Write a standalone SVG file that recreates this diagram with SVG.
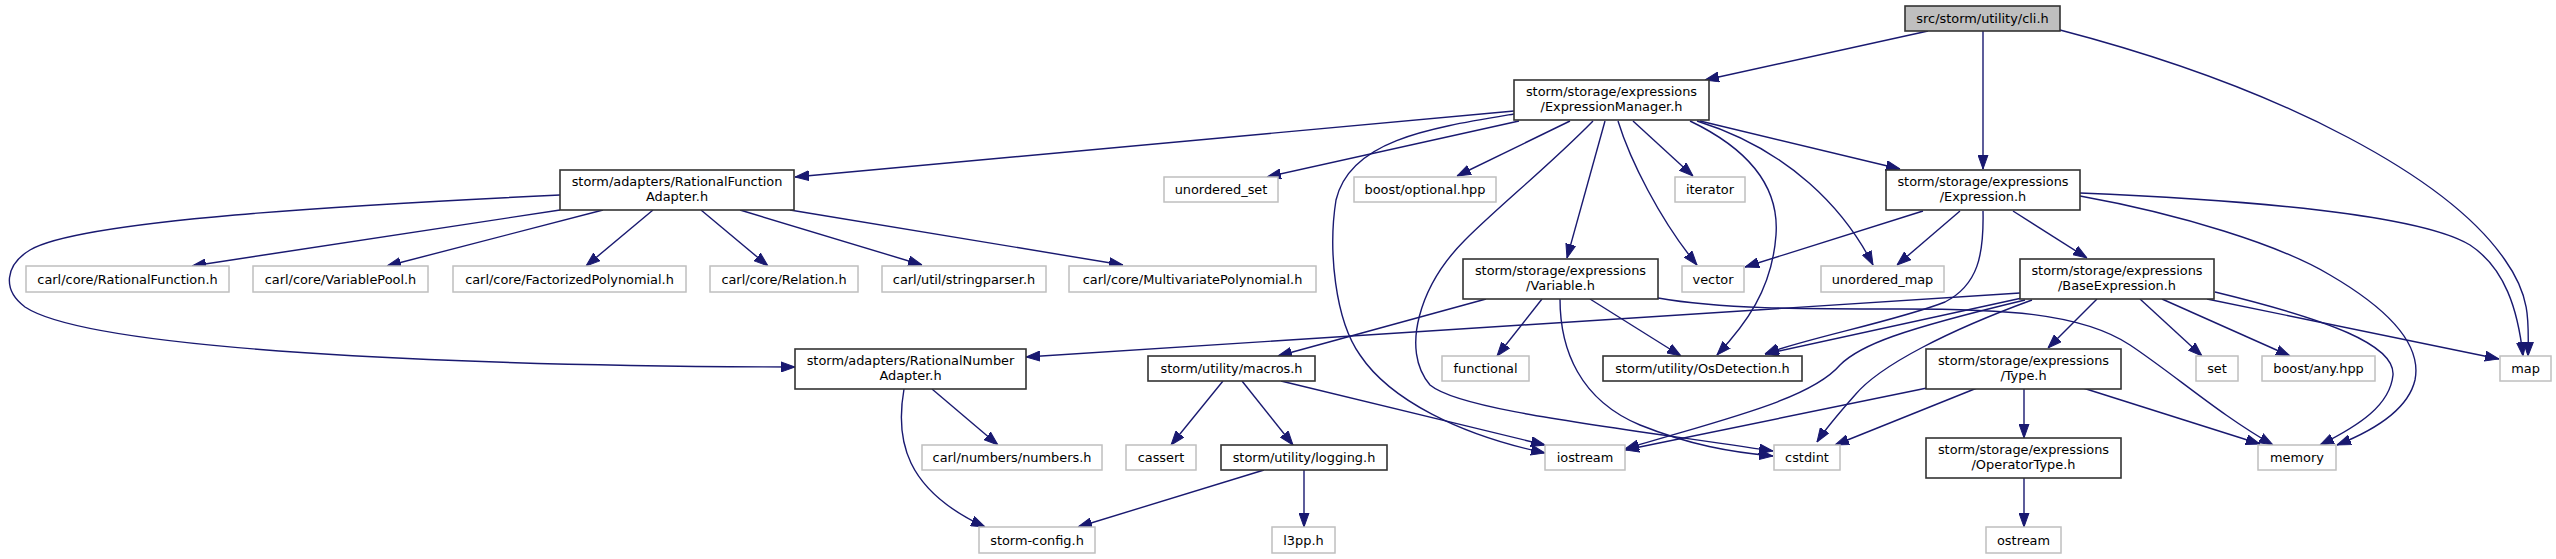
<svg xmlns="http://www.w3.org/2000/svg" width="2556" height="559" viewBox="0 0 2556 559">
<style>
text{font-family:"DejaVu Sans","Liberation Sans",sans-serif;font-size:12.9px;fill:#000;text-anchor:middle}
.n rect{fill:#fff;stroke:#333;stroke-width:1.6}
.g rect{fill:#fff;stroke:#bfbfbf;stroke-width:1.5}
.root rect{fill:#bfbfbf;stroke:#333;stroke-width:1.6}
#edges path{fill:none;stroke:#191970;stroke-width:1.4;marker-end:url(#a)}
</style>
<defs>
<marker id="a" markerWidth="14" markerHeight="11" refX="14" refY="5.5" orient="auto" markerUnits="userSpaceOnUse">
<path d="M0,0.5 L14,5.5 L0,10.5 z" fill="#191970" stroke="#191970" stroke-width="1"/>
</marker>
</defs>
<rect width="2556" height="559" fill="#fff"/>
<g id="edges">
<path d="M1928,31 L1705,80"/>
<path d="M1983,31 L1983,169"/>
<path d="M2060,30 C2290,90 2450,180 2505,260 C2530,295 2529,320 2528,356"/>
<path d="M1514,111 L795,177"/>
<path d="M1519,121 L1267,177"/>
<path d="M1570,121 L1457,176"/>
<path d="M1633,121 L1693,176"/>
<path d="M1700,121 L1900,169"/>
<path d="M1605,121 L1567,258"/>
<path d="M1618,121 C1630,160 1660,220 1697,265"/>
<path d="M1697,121 C1790,150 1845,210 1873,265"/>
<path d="M1690,121 C1740,145 1780,180 1776,235 C1772,290 1745,325 1717,355"/>
<path d="M1514,114 C1430,128 1350,140 1336,200 C1328,250 1335,320 1360,355 C1390,400 1460,435 1545,453"/>
<path d="M1593,121 C1550,165 1500,205 1465,240 C1420,285 1400,350 1430,385 C1460,410 1600,425 1773,451"/>
<path d="M560,210 L192,266"/>
<path d="M603,210 L387,266"/>
<path d="M653,210 L586,266"/>
<path d="M701,210 L768,266"/>
<path d="M740,210 L922,265"/>
<path d="M790,210 L1123,265"/>
<path d="M560,195 C350,205 80,220 30,250 C5,265 2,290 25,307 C90,350 450,366 795,367"/>
<path d="M1923,211 L1745,267"/>
<path d="M1960,211 L1897,265"/>
<path d="M2013,211 L2087,258"/>
<path d="M1983,211 C1984,255 1978,285 1945,302 C1900,320 1800,340 1765,354"/>
<path d="M2080,196 C2180,214 2280,245 2330,275 C2390,310 2422,345 2415,380 C2408,410 2375,430 2337,445"/>
<path d="M2080,193 C2250,200 2420,215 2470,245 C2505,268 2518,310 2523,356"/>
<path d="M1486,299 L1278,356"/>
<path d="M1542,299 L1497,356"/>
<path d="M1590,299 L1681,356"/>
<path d="M1560,299 C1560,350 1580,400 1640,425 C1690,445 1730,452 1773,456"/>
<path d="M1658,298 C1720,309 1800,309 1900,309 C2000,309 2080,312 2130,345 C2175,375 2220,415 2273,445"/>
<path d="M2020,293 L1026,357"/>
<path d="M2022,298 L1765,354"/>
<path d="M2025,300 C1900,330 1860,345 1840,365 C1810,400 1720,420 1625,449"/>
<path d="M2032,300 C1950,330 1880,365 1855,395 C1840,412 1826,428 1817,442"/>
<path d="M2097,299 L2048,348"/>
<path d="M2140,299 L2202,356"/>
<path d="M2162,299 L2290,356"/>
<path d="M2207,299 L2499,359"/>
<path d="M2215,292 C2330,320 2395,345 2393,375 C2390,405 2360,425 2320,445"/>
<path d="M1927,388 L1625,450"/>
<path d="M1977,388 L1835,445"/>
<path d="M2024,389 L2024,438"/>
<path d="M2083,388 L2260,444"/>
<path d="M2024,478 L2024,527"/>
<path d="M932,389 L998,445"/>
<path d="M904,389 C895,440 905,490 985,527"/>
<path d="M1223,381 L1171,445"/>
<path d="M1242,381 L1293,445"/>
<path d="M1281,381 L1545,445"/>
<path d="M1264,470 L1078,527"/>
<path d="M1304,470 L1304,527"/>
</g>
<g id="n_cli" class="root"><rect x="1905" y="6" width="155" height="25"/><text x="1982.5" y="23">src/storm/utility/cli.h</text></g>
<g id="n_exprmgr" class="n"><rect x="1514" y="80" width="195" height="40"/><text x="1611.5" y="96.3">storm/storage/expressions</text><text x="1611.5" y="110.8">/ExpressionManager.h</text></g>
<g id="n_rfa" class="n"><rect x="560" y="170" width="234" height="40"/><text x="677" y="186.3">storm/adapters/RationalFunction</text><text x="677" y="200.8">Adapter.h</text></g>
<g id="n_uset" class="g"><rect x="1164" y="177" width="114" height="25"/><text x="1221" y="194">unordered_set</text></g>
<g id="n_bopt" class="g"><rect x="1354" y="177" width="142" height="25"/><text x="1425" y="194">boost/optional.hpp</text></g>
<g id="n_iter" class="g"><rect x="1675" y="177" width="70" height="25"/><text x="1710" y="194">iterator</text></g>
<g id="n_expr" class="n"><rect x="1886" y="170" width="194" height="40"/><text x="1983" y="186.3">storm/storage/expressions</text><text x="1983" y="200.8">/Expression.h</text></g>
<g id="n_crf" class="g"><rect x="26" y="266" width="203" height="26"/><text x="127.5" y="283.5">carl/core/RationalFunction.h</text></g>
<g id="n_cvp" class="g"><rect x="253" y="266" width="175" height="26"/><text x="340.5" y="283.5">carl/core/VariablePool.h</text></g>
<g id="n_cfp" class="g"><rect x="453" y="266" width="233" height="26"/><text x="569.5" y="283.5">carl/core/FactorizedPolynomial.h</text></g>
<g id="n_crel" class="g"><rect x="710" y="266" width="148" height="26"/><text x="784" y="283.5">carl/core/Relation.h</text></g>
<g id="n_csp" class="g"><rect x="882" y="266" width="164" height="26"/><text x="964" y="283.5">carl/util/stringparser.h</text></g>
<g id="n_cmp" class="g"><rect x="1069" y="266" width="247" height="26"/><text x="1192.5" y="283.5">carl/core/MultivariatePolynomial.h</text></g>
<g id="n_var" class="n"><rect x="1463" y="259" width="195" height="40"/><text x="1560.5" y="275.3">storm/storage/expressions</text><text x="1560.5" y="289.8">/Variable.h</text></g>
<g id="n_vector" class="g"><rect x="1682" y="266" width="62" height="26"/><text x="1713" y="283.5">vector</text></g>
<g id="n_umap" class="g"><rect x="1821" y="266" width="123" height="26"/><text x="1882.5" y="283.5">unordered_map</text></g>
<g id="n_base" class="n"><rect x="2020" y="259" width="194" height="40"/><text x="2117" y="275.3">storm/storage/expressions</text><text x="2117" y="289.8">/BaseExpression.h</text></g>
<g id="n_rna" class="n"><rect x="795" y="349" width="231" height="40"/><text x="910.5" y="365.3">storm/adapters/RationalNumber</text><text x="910.5" y="379.8">Adapter.h</text></g>
<g id="n_macros" class="n"><rect x="1148" y="356" width="167" height="25"/><text x="1231.5" y="373">storm/utility/macros.h</text></g>
<g id="n_func" class="g"><rect x="1442" y="356" width="87" height="25"/><text x="1485.5" y="373">functional</text></g>
<g id="n_osd" class="n"><rect x="1603" y="356" width="199" height="25"/><text x="1702.5" y="373">storm/utility/OsDetection.h</text></g>
<g id="n_type" class="n"><rect x="1926" y="349" width="195" height="40"/><text x="2023.5" y="365.3">storm/storage/expressions</text><text x="2023.5" y="379.8">/Type.h</text></g>
<g id="n_set" class="g"><rect x="2196" y="356" width="42" height="25"/><text x="2217" y="373">set</text></g>
<g id="n_bany" class="g"><rect x="2262" y="356" width="113" height="25"/><text x="2318.5" y="373">boost/any.hpp</text></g>
<g id="n_map" class="g"><rect x="2500" y="356" width="51" height="25"/><text x="2525.5" y="373">map</text></g>
<g id="n_cnum" class="g"><rect x="922" y="445" width="180" height="25"/><text x="1012" y="462">carl/numbers/numbers.h</text></g>
<g id="n_cassert" class="g"><rect x="1126" y="445" width="70" height="25"/><text x="1161" y="462">cassert</text></g>
<g id="n_logging" class="n"><rect x="1221" y="445" width="166" height="25"/><text x="1304" y="462">storm/utility/logging.h</text></g>
<g id="n_iostream" class="g"><rect x="1545" y="445" width="80" height="25"/><text x="1585" y="462">iostream</text></g>
<g id="n_cstdint" class="g"><rect x="1774" y="445" width="66" height="25"/><text x="1807" y="462">cstdint</text></g>
<g id="n_optype" class="n"><rect x="1926" y="438" width="195" height="40"/><text x="2023.5" y="454.3">storm/storage/expressions</text><text x="2023.5" y="468.8">/OperatorType.h</text></g>
<g id="n_memory" class="g"><rect x="2258" y="445" width="78" height="25"/><text x="2297" y="462">memory</text></g>
<g id="n_sconf" class="g"><rect x="979" y="527" width="116" height="26"/><text x="1037" y="544.5">storm-config.h</text></g>
<g id="n_l3pp" class="g"><rect x="1272" y="527" width="63" height="26"/><text x="1303.5" y="544.5">l3pp.h</text></g>
<g id="n_ostream" class="g"><rect x="1986" y="527" width="75" height="26"/><text x="2023.5" y="544.5">ostream</text></g>
</svg>
